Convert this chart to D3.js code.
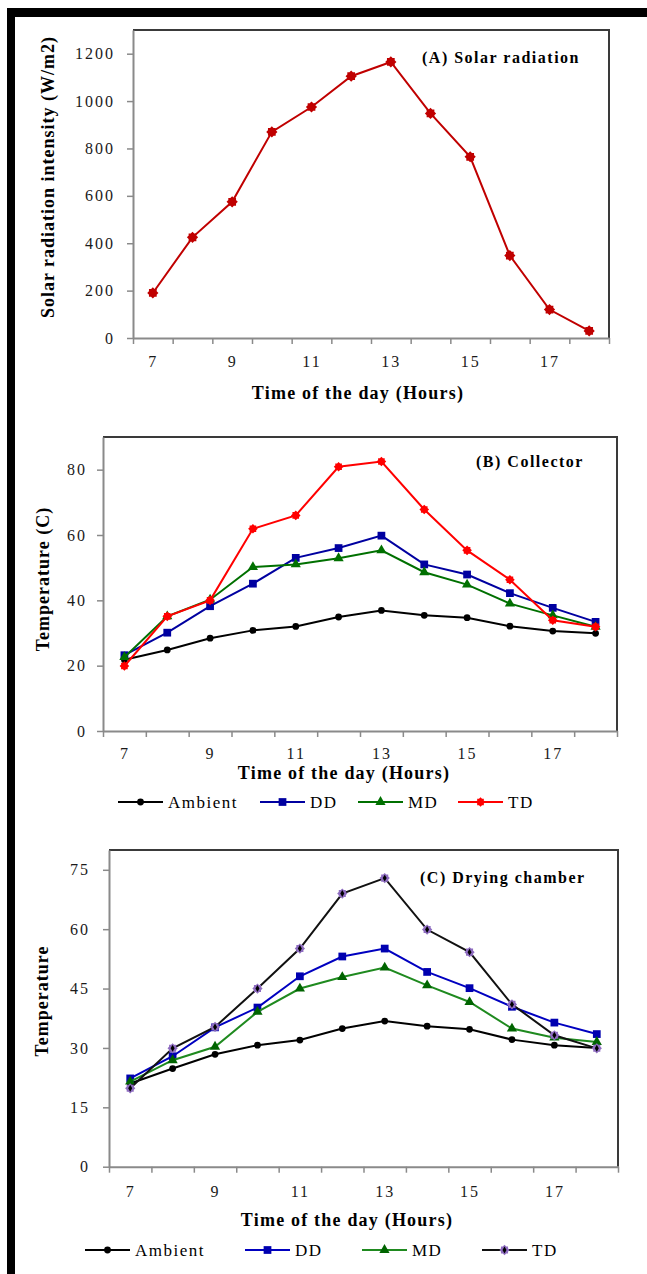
<!DOCTYPE html>
<html>
<head>
<meta charset="utf-8">
<script src="https://cdn.jsdelivr.net/npm/d3@7"></script>
<style>
  body { margin: 0; background: #fff; }
  svg { display: block; }
  text { font-family: "Liberation Serif", "Times New Roman", serif; }
</style>
</head>
<body>
<script>
// hours of the day (categories) and the labels shown under the axis
var hours = [7, 8, 9, 10, 11, 12, 13, 14, 15, 16, 17, 18];
var hourLabels = [7, 9, 11, 13, 15, 17];

// (A) solar radiation, W/m2
var solarRadiation = [190, 425, 575, 870, 975, 1105, 1165, 948, 765, 348, 120, 30];
var radiationTicks = [0, 200, 400, 600, 800, 1000, 1200];

// (B) collector temperature
var collectorAmbient = [21.8, 24.8, 28.4, 30.8, 32, 34.9, 36.9, 35.4, 34.7, 32.1, 30.6, 29.9];
var collectorDD = [23.2, 30.1, 38.2, 45.1, 53, 56, 59.8, 51, 47.9, 42.2, 37.7, 33.4];
var collectorMD = [22.6, 35.1, 40.2, 50.2, 51, 52.9, 55.3, 48.6, 44.8, 39, 35.4, 31.9];
var collectorTD = [19.9, 35.1, 40, 61.9, 66, 80.9, 82.5, 67.8, 55.3, 46.3, 33.9, 31.9];
var collectorTicks = [0, 20, 40, 60, 80];

// (C) drying chamber temperature
var chamberAmbient = [21, 24.8, 28.4, 30.7, 32, 34.9, 36.8, 35.5, 34.7, 32.1, 30.7, 30];
var chamberDD = [22.3, 27.9, 35.2, 40.2, 48.1, 53.1, 55.1, 49.2, 45.1, 40.4, 36.4, 33.5];
var chamberMD = [21.5, 26.9, 30.3, 39.1, 45, 47.9, 50.3, 45.8, 41.6, 34.9, 32.6, 31.5];
var chamberTD = [19.8, 29.9, 35.3, 45, 55.1, 69, 72.9, 59.9, 54.2, 41, 33.2, 29.9];
var chamberTicks = [0, 15, 30, 45, 60, 75];

var seriesNames = ["Ambient", "DD", "MD", "TD"];

var W = 647, H = 1274;
var FONT = '"Liberation Serif", "Times New Roman", serif';
var svg = d3.select("body").append("svg").attr("width", W).attr("height", H);

// thick black frame (top and left)
svg.append("rect").attr("x", 7).attr("y", 8).attr("width", W - 7).attr("height", 9).attr("fill", "#000");
svg.append("rect").attr("x", 7).attr("y", 8).attr("width", 8).attr("height", H - 8).attr("fill", "#000");

// star marker: a square with a diamond on top of it
var starType = {
    draw: function (ctx, size) {
        var r = Math.sqrt(size) / 2, d = r * 1.45;
        ctx.moveTo(-r, -r); ctx.lineTo(r, -r); ctx.lineTo(r, r); ctx.lineTo(-r, r); ctx.closePath();
        ctx.moveTo(0, -d); ctx.lineTo(d, 0); ctx.lineTo(0, d); ctx.lineTo(-d, 0); ctx.closePath();
    }
};

function drawMarker(sel, s) {
    sel.append("path")
        .attr("d", d3.symbol().type(s.symbol).size(s.size))
        .attr("fill", s.fill);
    if (s.center) {
        sel.append("path")
            .attr("d", d3.symbol().type(d3.symbolDiamond).size(14))
            .attr("fill", s.center);
    }
}

function drawPanel(p) {
    var x = d3.scaleLinear().domain([6.5, 18.5]).range([p.left, p.right]);
    var y = d3.scaleLinear().domain([0, p.yMax]).range([p.bottom, p.top]);
    var g = svg.append("g");

    // plot area border (top + right)
    g.append("path")
        .attr("d", "M" + p.left + "," + p.top + "H" + p.right + "V" + p.bottom)
        .attr("fill", "none").attr("stroke", "#3a3a3a").attr("stroke-width", 2);

    // x axis: ticks at category edges, labels every other hour
    var xa = g.append("g").attr("transform", "translate(0," + p.bottom + ")")
        .call(d3.axisBottom(x).tickValues(d3.range(6.5, 19, 1)).tickFormat("").tickSize(6).tickSizeOuter(0));
    var xl = g.append("g").attr("transform", "translate(0," + p.bottom + ")")
        .call(d3.axisBottom(x).tickValues(hourLabels).tickFormat(d3.format("d")).tickSize(0).tickPadding(p.xPad));
    xl.select(".domain").remove();

    var ya = g.append("g").attr("transform", "translate(" + p.left + ",0)")
        .call(d3.axisLeft(y).tickValues(p.ticks).tickFormat(d3.format("d")).tickSize(6).tickPadding(p.yPad).tickSizeOuter(0));

    [xa, ya].forEach(function (a) {
        a.select(".domain").attr("stroke", "#8a8a8a").attr("stroke-width", 2);
        a.selectAll(".tick line").attr("stroke", "#8a8a8a").attr("stroke-width", 1.5);
    });
    [xl, ya].forEach(function (a) {
        a.attr("font-family", FONT);
        a.selectAll(".tick text")
            .style("font-family", FONT)
            .style("font-size", "16px").style("letter-spacing", "2px")
            .attr("fill", "#1a1a1a");
    });

    // axis titles
    g.append("text")
        .attr("transform", "translate(" + p.yTitleX + "," + p.yTitleY + ") rotate(-90)")
        .attr("text-anchor", "middle").attr("dy", "0.35em")
        .style("font-family", FONT)
        .style("font-size", "18px").style("font-weight", "bold").style("letter-spacing", "1px")
        .text(p.yTitle);
    g.append("text")
        .attr("x", p.xTitleX).attr("y", p.xTitleY)
        .attr("text-anchor", "middle")
        .style("font-family", FONT)
        .style("font-size", "18px").style("font-weight", "bold").style("letter-spacing", "1.2px")
        .text("Time of the day (Hours)");

    // panel title
    g.append("text")
        .attr("x", p.titleX).attr("y", p.titleY)
        .style("font-family", FONT)
        .style("font-size", "16px").style("font-weight", "bold").style("letter-spacing", "1.5px")
        .text(p.title);

    var line = d3.line()
        .x(function (d, i) { return x(hours[i]); })
        .y(function (d) { return y(d); });

    p.series.forEach(function (s) {
        g.append("path").datum(s.values)
            .attr("d", line)
            .attr("fill", "none").attr("stroke", s.color).attr("stroke-width", 2);
        g.selectAll(null).data(s.values).enter().append("g")
            .attr("transform", function (d, i) { return "translate(" + x(hours[i]) + "," + y(d) + ")"; })
            .each(function () { drawMarker(d3.select(this), s); });
    });

    // legend
    if (p.legend) {
        p.series.forEach(function (s, i) {
            var lx = p.legend.xs[i], ly = p.legend.y;
            var lg = g.append("g");
            lg.append("line").attr("x1", lx).attr("x2", lx + 45).attr("y1", ly).attr("y2", ly)
                .attr("stroke", s.color).attr("stroke-width", 2);
            drawMarker(lg.append("g").attr("transform", "translate(" + (lx + 22.5) + "," + ly + ")"), s);
            lg.append("text").attr("x", lx + 50).attr("y", ly).attr("dy", "0.35em")
                .style("font-family", FONT)
                .style("font-size", "17px").style("letter-spacing", "1.5px")
                .text(seriesNames[i]);
        });
    }
}

drawPanel({
    left: 133, right: 609, top: 30, bottom: 338, yMax: 1300,
    ticks: radiationTicks, xPad: 18, yPad: 12,
    yTitle: "Solar radiation intensity (W/m2)", yTitleX: 48, yTitleY: 177,
    xTitleX: 358, xTitleY: 399,
    title: "(A) Solar radiation", titleX: 422, titleY: 63,
    series: [
        { values: solarRadiation, color: "#c00000", fill: "#c00000", symbol: starType, size: 60 }
    ]
});

drawPanel({
    left: 103, right: 617, top: 437, bottom: 731, yMax: 90,
    ticks: collectorTicks, xPad: 17, yPad: 10,
    yTitle: "Temperature (C)", yTitleX: 43, yTitleY: 579,
    xTitleX: 344, xTitleY: 779,
    title: "(B) Collector", titleX: 476, titleY: 467,
    series: [
        { values: collectorAmbient, color: "#000000", fill: "#000000", symbol: d3.symbolCircle, size: 36 },
        { values: collectorDD, color: "#0000a0", fill: "#0000a0", symbol: d3.symbolSquare, size: 60 },
        { values: collectorMD, color: "#007000", fill: "#007000", symbol: d3.symbolTriangle, size: 45 },
        { values: collectorTD, color: "#ff0000", fill: "#ff0000", symbol: starType, size: 44 }
    ],
    legend: { y: 802, xs: [118, 260, 358, 458] }
});

drawPanel({
    left: 109, right: 618, top: 850, bottom: 1166.7, yMax: 80,
    ticks: chamberTicks, xPad: 19, yPad: 13,
    yTitle: "Temperature", yTitleX: 42, yTitleY: 1001,
    xTitleX: 347, xTitleY: 1226,
    title: "(C) Drying chamber", titleX: 420, titleY: 883,
    series: [
        { values: chamberAmbient, color: "#000000", fill: "#000000", symbol: d3.symbolCircle, size: 36 },
        { values: chamberDD, color: "#0000c0", fill: "#0000b0", symbol: d3.symbolSquare, size: 60 },
        { values: chamberMD, color: "#1f8a1f", fill: "#006400", symbol: d3.symbolTriangle, size: 45 },
        { values: chamberTD, color: "#111111", fill: "#8e6cc0", symbol: starType, size: 50, center: "#000" }
    ],
    legend: { y: 1250, xs: [85, 245, 362, 482] }
});
</script>
</body>
</html>
